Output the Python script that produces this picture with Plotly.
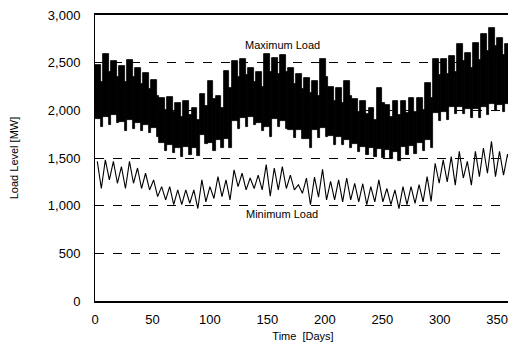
import plotly.graph_objects as go

# Weekly readings (week index 0..51)
weeks = list(range(52))

# Maximum load band: weekday top / weekday bottom / weekend top / weekend bottom (MW)
max_peak = [2480, 2595, 2515, 2470, 2525, 2440, 2390, 2315, 2130, 2140, 2075, 2095, 2020,
            2170, 2305, 2150, 2410, 2515, 2535, 2445, 2400, 2595, 2550, 2580, 2445, 2380,
            2340, 2305, 2535, 2250, 2235, 2305, 2115, 2095, 2020, 2235, 2060, 2095, 2100,
            2130, 2130, 2285, 2535, 2535, 2570, 2695, 2600, 2705, 2800, 2865, 2760, 2700]
max_base = [1910, 1930, 1950, 1880, 1900, 1870, 1850, 1810, 1660, 1640, 1610, 1620, 1610,
            1740, 1660, 1690, 1700, 1890, 1920, 1930, 1870, 1820, 1910, 1890, 1790, 1790,
            1700, 1790, 1810, 1730, 1720, 1690, 1650, 1620, 1610, 1590, 1580, 1560, 1620,
            1630, 1660, 1690, 1970, 1980, 2030, 2040, 2010, 2010, 2040, 2070, 2060, 2070]
max_wend_top = [2300, 2400, 2350, 2300, 2350, 2280, 2220, 2150, 2000, 1980, 1930, 1950, 1900,
                2050, 2120, 2020, 2230, 2350, 2370, 2300, 2250, 2400, 2380, 2400, 2280, 2220,
                2180, 2150, 2350, 2100, 2080, 2150, 1980, 1960, 1900, 2080, 1930, 1950, 1970,
                1980, 2000, 2130, 2370, 2380, 2400, 2520, 2440, 2530, 2620, 2680, 2580, 2530]
max_dip = [1830, 1850, 1865, 1780, 1800, 1780, 1760, 1725, 1570, 1550, 1515, 1530, 1520,
           1650, 1570, 1600, 1600, 1800, 1830, 1850, 1780, 1725, 1830, 1800, 1705, 1700,
           1600, 1705, 1725, 1640, 1640, 1600, 1560, 1535, 1515, 1500, 1490, 1465, 1535,
           1540, 1570, 1600, 1890, 1900, 1960, 1960, 1920, 1920, 1950, 1990, 1980, 2000]

# Minimum load line: weekly high and low (MW)
min_hi = [1465, 1480, 1465, 1410, 1465, 1395, 1340, 1270, 1200, 1200, 1165, 1165, 1165,
          1270, 1200, 1305, 1270, 1375, 1340, 1290, 1320, 1430, 1395, 1410, 1320, 1220,
          1290, 1300, 1380, 1255, 1270, 1290, 1235, 1230, 1200, 1270, 1180, 1165, 1200,
          1200, 1220, 1305, 1445, 1480, 1515, 1570, 1465, 1570, 1605, 1675, 1570, 1540]
min_lo = [1180, 1270, 1235, 1180, 1235, 1180, 1165, 1095, 1060, 1010, 1010, 1025, 970,
          1040, 1075, 1095, 1060, 1200, 1165, 1180, 1165, 1100, 1165, 1180, 1165, 1130,
          1010, 1090, 1060, 1060, 1040, 1060, 1040, 1010, 1040, 1040, 1010, 970, 1010,
          1025, 1040, 1045, 1235, 1250, 1215, 1290, 1215, 1305, 1340, 1305, 1320, 1380]

y_ticks = [0, 500, 1000, 1500, 2000, 2500, 3000]
x_ticks = [0, 50, 100, 150, 200, 250, 300, 350]

FONT = "Liberation Sans, Arial, sans-serif"

fig = go.Figure()

# weekday blocks
fig.add_trace(go.Bar(
    x=[7 * w + 2.5 for w in weeks],
    y=[p - b for p, b in zip(max_peak, max_base)],
    base=max_base,
    width=[5] * len(weeks),
    marker=dict(color="black", line=dict(width=0.8, color="black")),
    showlegend=False, hoverinfo="skip"))
# weekend blocks
fig.add_trace(go.Bar(
    x=[7 * w + 6 for w in weeks],
    y=[t - d for t, d in zip(max_wend_top, max_dip)],
    base=max_dip,
    width=[2] * len(weeks),
    marker=dict(color="black", line=dict(width=0.8, color="black")),
    showlegend=False, hoverinfo="skip"))

# minimum load line
mx, my = [], []
for w in weeks:
    mx += [7 * w + 2, 7 * w + 5.5]
    my += [min_hi[w], min_lo[w]]
fig.add_trace(go.Scatter(x=mx, y=my, mode="lines",
                         line=dict(color="black", width=1.1),
                         showlegend=False, hoverinfo="skip"))

fig.add_annotation(x=163, y=2685, text="Maximum Load", showarrow=False,
                   font=dict(family=FONT, size=11, color="black"))
fig.add_annotation(x=163, y=915, text="Minimum Load", showarrow=False,
                   font=dict(family=FONT, size=11, color="black"))

# page body has an 8px margin, so the figure is sized to fit the 516x349 window
fig.update_layout(
    width=508, height=341,
    margin=dict(l=87, r=5, t=7, b=48),
    paper_bgcolor="white", plot_bgcolor="white",
    barmode="overlay", bargap=0,
    font=dict(family=FONT, color="black"),
    xaxis=dict(range=[0, 362], tickvals=x_ticks, ticktext=[str(v) for v in x_ticks],
               automargin=False, ticklabeloverflow="allow",
               showgrid=False, zeroline=False, showline=True, linecolor="black",
               linewidth=1.5, mirror=True, ticks="outside", ticklen=6, tickcolor="white",
               tickfont=dict(size=13, family=FONT),
               title=dict(text="Time  [Days]", font=dict(size=11, family=FONT), standoff=6)),
    yaxis=dict(range=[0, 3000], tickvals=y_ticks,
               ticktext=[f"{v:,}" for v in y_ticks],
               automargin=False, ticklabeloverflow="allow",
               showgrid=True, gridcolor="black", griddash="dash", gridwidth=1,
               zeroline=False, showline=True, linecolor="black", linewidth=1,
               mirror=True, ticks="outside", ticklen=11, tickcolor="white",
               tickfont=dict(size=13, family=FONT),
               title=dict(text="Load Level [MW]", font=dict(size=11, family=FONT), standoff=30)),
)

fig.write_html("out.html")
